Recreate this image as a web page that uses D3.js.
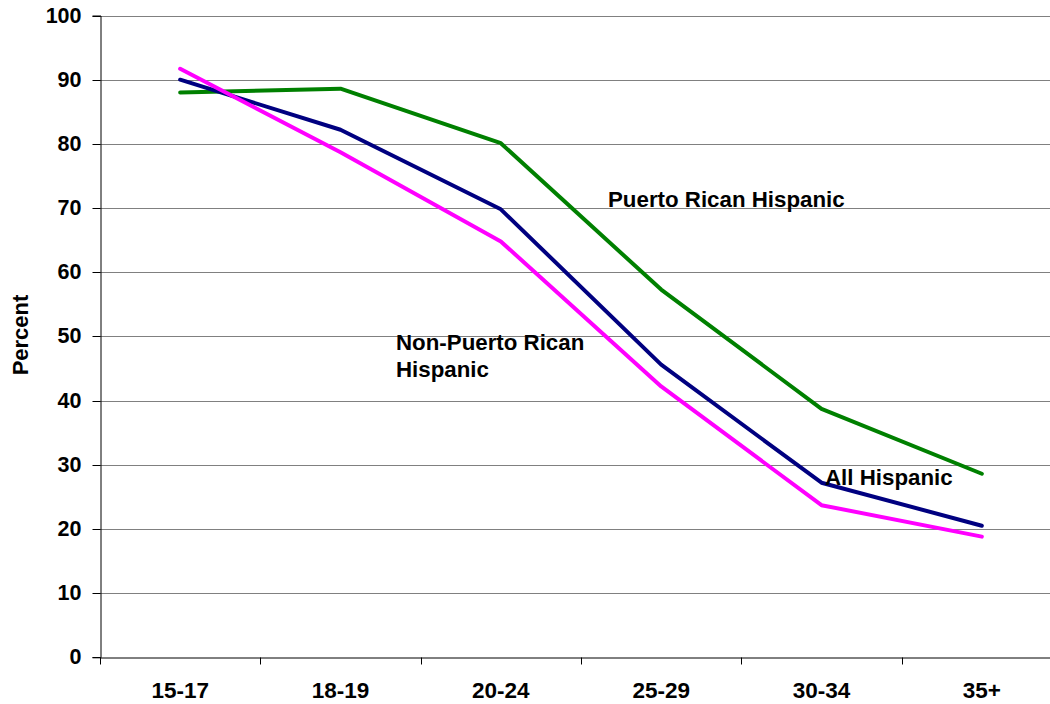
<!DOCTYPE html>
<html><head><meta charset="utf-8">
<script src="https://cdn.jsdelivr.net/npm/d3@7"></script>
<style>body{margin:0;background:#fff}svg{display:block}text{font-family:"Liberation Sans",Arial,sans-serif;font-weight:bold;fill:#000}</style>
</head><body><svg id="c" width="1050" height="704"></svg>
<script>
const categories = ["15-17","18-19","20-24","25-29","30-34","35+"];
const puertoRican = [88.0, 88.6, 80.1, 57.3, 38.7, 28.6];
const allHispanic = [90.0, 82.2, 69.8, 45.6, 27.2, 20.5];
const nonPuertoRican = [91.7, 78.7, 64.8, 42.2, 23.7, 18.8];
const yTicks = [0,10,20,30,40,50,60,70,80,90,100];

const svg = d3.select("#c");
const x = d3.scaleBand().domain(categories).range([100, 1062]);
const y = d3.scaleLinear().domain([0,100]).range([657.3, 15.5]);

svg.append("g").selectAll("line").data(yTicks.filter(d=>d>0)).join("line")
  .attr("x1",100).attr("x2",1062)
  .attr("y1",d=>Math.round(y(d))+0.5).attr("y2",d=>Math.round(y(d))+0.5)
  .attr("stroke","#808080").attr("stroke-width",1);

const ya = svg.append("g").attr("transform","translate(100.5,0)")
  .call(d3.axisLeft(y).tickValues(yTicks).tickSize(8).tickPadding(11));
ya.select(".domain").attr("stroke","#000");
ya.selectAll(".tick line").attr("stroke","#000");
ya.selectAll(".tick").attr("transform",d=>`translate(0,${Math.round(y(d))+0.5})`);
ya.selectAll("text").style("font-size","21.5px").style("font-family","Liberation Sans, Arial, sans-serif").style("font-weight","bold").attr("fill","#000");
ya.attr("font-family",null).attr("font-size",null);

const xa = svg.append("g").attr("transform",`translate(0,${Math.round(y(0))+0.5})`)
  .call(d3.axisBottom(x).tickSize(0).tickPadding(25));
xa.select(".domain").attr("stroke","#000");
xa.selectAll("text").style("font-size","22.5px").style("font-family","Liberation Sans, Arial, sans-serif").style("font-weight","bold").attr("fill","#000");
xa.attr("font-family",null).attr("font-size",null);
xa.append("g").selectAll("line").data(categories).join("line")
  .attr("x1",d=>Math.round(x(d))+0.5).attr("x2",d=>Math.round(x(d))+0.5)
  .attr("y1",0).attr("y2",7).attr("stroke","#000");

const line = d3.line().x((d,i)=>x(categories[i])+x.bandwidth()/2).y(d=>y(d));
const series = [
  {v:puertoRican, c:"#008000"},
  {v:allHispanic, c:"#000080"},
  {v:nonPuertoRican, c:"#FF00FF"}
];
svg.append("g").selectAll("path").data(series).join("path")
  .attr("d",d=>line(d.v)).attr("fill","none").attr("stroke",d=>d.c)
  .attr("stroke-width",4).attr("stroke-linejoin","round").attr("stroke-linecap","round");

const lab = (t,xx,yy)=>svg.append("text").attr("x",xx).attr("y",yy).style("font-size","22.3px").text(t);
lab("Puerto Rican Hispanic",608,206.5);
lab("Non-Puerto Rican",396,350);
lab("Hispanic",396,376.5);
lab("All Hispanic",825,485);

svg.append("text").attr("transform","translate(28,335) rotate(-90)").attr("text-anchor","middle")
  .style("font-size","22px").text("Percent");
</script></body></html>
